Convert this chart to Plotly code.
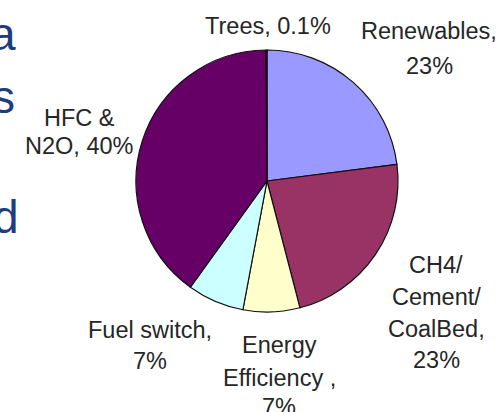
import plotly.graph_objects as go

# ---- data ----
categories = ["Renewables", "CH4/Cement/CoalBed", "Energy Efficiency", "Fuel switch", "HFC & N2O", "Trees"]
values = [23, 23, 7, 7, 40, 0.1]
label_lines = [["Renewables,"], ["CH4/", "Cement/", "CoalBed,"], ["Energy", "Efficiency ,"],
               ["Fuel switch,"], ["HFC &", "N2O,"], ["Trees,"]]
value_same_line = [False, False, False, False, True, True]
side_letters = ["a", "s", "d"]

# ---- style / layout ----
colors = ["#9999FF", "#993366", "#FFFFCC", "#CCFFFF", "#660066", "#FF8080"]
W, H = 497, 412
cx, cy, r = 267, 181, 131
FONT = "Liberation Sans, Arial, sans-serif"
TXT = "#262626"
FS = 23.5
# (center x, baselines) per label, pixels
label_pos = [
    (429, [38, 73]),
    (436, [272, 304, 336, 367]),
    (279, [352, 385, 414]),
    (150, [337, 368]),
    (79, [125, 153]),
    (268, [33]),
]
letter_pos = [(18, 46), (17, 109), (20.5, 229)]


def px(x):
    return x / W


def py(y):
    return 1 - y / H


fig = go.Figure(go.Pie(
    labels=categories,
    values=values,
    sort=False,
    direction="clockwise",
    rotation=0,
    marker=dict(colors=colors, line=dict(color="#111111", width=1.2)),
    textinfo="none",
    hoverinfo="skip",
    showlegend=False,
    domain=dict(x=[px(cx - r), px(cx + r)], y=[py(cy + r), py(cy - r)]),
))

annotations = []
for lines, v, same, (x, baselines) in zip(label_lines, values, value_same_line, label_pos):
    vt = f"{v:g}%"
    disp = list(lines)
    if same:
        disp[-1] = disp[-1] + " " + vt
    else:
        disp.append(vt)
    for t, b in zip(disp, baselines):
        annotations.append(dict(
            text=t, x=px(x), y=py(b - 7), xref="paper", yref="paper",
            xanchor="center", yanchor="middle", showarrow=False,
            font=dict(family=FONT, size=FS, color=TXT),
        ))

for t, (x, b) in zip(side_letters, letter_pos):
    annotations.append(dict(
        text=t, x=px(x), y=py(b - 12), xref="paper", yref="paper",
        xanchor="right", yanchor="middle", showarrow=False,
        font=dict(family=FONT, size=46, color="#1F3C7C"),
    ))

fig.update_layout(
    width=W, height=H,
    margin=dict(l=0, r=0, t=0, b=0),
    paper_bgcolor="white", plot_bgcolor="white",
    annotations=annotations,
)

fig.write_html("out.html", config={"displayModeBar": False},
               post_script="document.body.style.margin='0';")
